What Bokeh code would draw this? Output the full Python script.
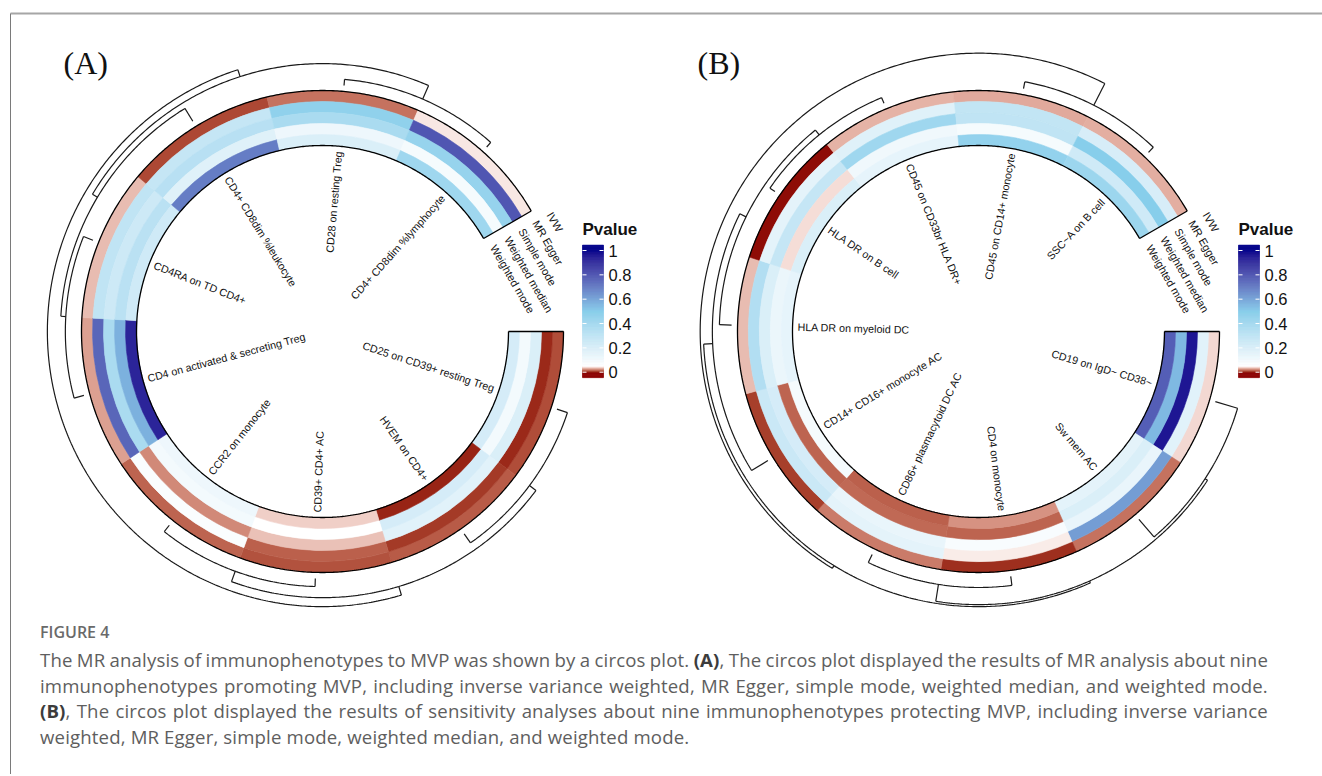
import math
from bokeh.plotting import figure
from bokeh.models import Range1d, Div
from bokeh.layouts import column
from bokeh.embed import file_html
from bokeh.resources import INLINE
from bokeh.core.properties import value

# ---------------- data ----------------
METHODS = ["IVW", "MR Egger", "Simple mode", "Weighted median", "Weighted mode"]

A_TRAITS = ["CD25 on CD39+ resting Treg", "HVEM on CD4+", "CD39+ CD4+ AC", "CCR2 on monocyte",
            "CD4 on activated & secreting Treg", "CD4RA on TD CD4+", "CD4+ CD8dim %leukocyte",
            "CD28 on resting Treg", "CD4+ CD8dim %lymphocyte"]
A_IVW    = [0.012, 0.015, 0.013, 0.017, 0.030, 0.036, 0.011, 0.020, 0.045]
A_EGGER  = [0.005, 0.008, 0.016, 0.070, 0.760, 0.300, 0.280, 0.470, 0.800]
A_SIMPLE = [0.200, 0.170, 0.037, 0.025, 0.380, 0.250, 0.330, 0.380, 0.450]
A_WMED   = [0.100, 0.220, 0.050, 0.100, 0.570, 0.320, 0.180, 0.120, 0.090]
A_WMODE  = [0.220, 0.004, 0.040, 0.120, 0.930, 0.240, 0.700, 0.200, 0.420]
A_MERGE  = [(-8, -9), (-5, -6), (-3, -4), (-1, -2), (2, -7), (5, 1), (4, 3), (7, 6)]
A_HEIGHT = [0.21, 0.35, 0.28, 0.38, 0.52, 0.72, 0.66, 0.97]

B_TRAITS = ["CD19 on IgD~ CD38~", "Sw mem AC", "CD4 on monocyte", "CD86+ plasmacytoid DC AC",
            "CD14+ CD16+ monocyte AC", "HLA DR on myeloid DC", "HLA DR on B cell",
            "CD45 on CD33br HLA DR+", "CD45 on CD14+ monocyte", "SSC~A on B cell"]
B_IVW    = [0.042, 0.020, 0.006, 0.022, 0.009, 0.036, 0.001, 0.034, 0.032, 0.033]
B_EGGER  = [0.170, 0.620, 0.046, 0.160, 0.260, 0.350, 0.160, 0.180, 0.290, 0.210]
B_SIMPLE = [0.960, 0.140, 0.080, 0.140, 0.220, 0.200, 0.280, 0.420, 0.300, 0.500]
B_WMED   = [0.550, 0.200, 0.017, 0.018, 0.017, 0.130, 0.043, 0.110, 0.090, 0.240]
B_WMODE  = [0.780, 0.160, 0.027, 0.016, 0.090, 0.150, 0.200, 0.150, 0.460, 0.430]
B_MERGE  = [(-9, -10), (-7, -8), (-6, 2), (-5, 3), (-3, -4), (-1, -2), (6, 5), (7, 4), (8, 1)]
B_HEIGHT = [0.24, 0.21, 0.42, 0.66, 0.31, 0.80, 0.90, 0.97, 1.08]

PANEL_TITLES = ["(A)", "(B)"]
LEGEND_TITLE = "Pvalue"
LEGEND_TICKS = [0, 0.2, 0.4, 0.6, 0.8, 1]
LEGEND_TICK_LABELS = ["0", "0.2", "0.4", "0.6", "0.8", "1"]
COLOR_STOPS = [0.0, 0.05, 0.5, 1.0]
COLOR_HEX = ["#8B0000", "#FFFFFF", "#87CEEB", "#00008B"]

CAPTION_TITLE = "FIGURE 4"
CAPTION_LINES = [
    "The MR analysis of immunophenotypes to MVP was shown by a circos plot. (A), The circos plot displayed the results of MR analysis about nine",
    "immunophenotypes promoting MVP, including inverse variance weighted, MR Egger, simple mode, weighted median, and weighted mode.",
    "(B), The circos plot displayed the results of sensitivity analyses about nine immunophenotypes protecting MVP, including inverse variance",
    "weighted, MR Egger, simple mode, weighted median, and weighted mode.",
]

# ---------------- colour scale (LAB interpolation) ----------------
def _hex_rgb(h):
    return [int(h[i:i + 2], 16) / 255 for i in (1, 3, 5)]

def _lin(c):
    return c / 12.92 if c <= 0.04045 else ((c + 0.055) / 1.055) ** 2.4

def _unlin(c):
    c = max(0.0, min(1.0, c))
    return 12.92 * c if c <= 0.0031308 else 1.055 * c ** (1 / 2.4) - 0.055

_WP = (0.95047, 1.0, 1.08883)

def _f(t):
    return t ** (1 / 3) if t > (6 / 29) ** 3 else t / (3 * (6 / 29) ** 2) + 4 / 29

def _finv(t):
    return t ** 3 if t > 6 / 29 else 3 * (6 / 29) ** 2 * (t - 4 / 29)

def hex_lab(h):
    r, g, b = [_lin(c) for c in _hex_rgb(h)]
    X = 0.4124564 * r + 0.3575761 * g + 0.1804375 * b
    Y = 0.2126729 * r + 0.7151522 * g + 0.0721750 * b
    Z = 0.0193339 * r + 0.1191920 * g + 0.9503041 * b
    fx, fy, fz = _f(X / _WP[0]), _f(Y / _WP[1]), _f(Z / _WP[2])
    return (116 * fy - 16, 500 * (fx - fy), 200 * (fy - fz))

def lab_hex(L, a, b):
    fy = (L + 16) / 116
    fx = fy + a / 500
    fz = fy - b / 200
    X, Y, Z = _WP[0] * _finv(fx), _WP[1] * _finv(fy), _WP[2] * _finv(fz)
    r = 3.2404542 * X - 1.5371385 * Y - 0.4985314 * Z
    g = -0.9692660 * X + 1.8760108 * Y + 0.0415560 * Z
    bb = 0.0556434 * X - 0.2040259 * Y + 1.0572252 * Z
    return "#%02x%02x%02x" % tuple(int(round(_unlin(c) * 255)) for c in (r, g, bb))

_LABS = [hex_lab(h) for h in COLOR_HEX]

def pcolor(v):
    v = max(COLOR_STOPS[0], min(COLOR_STOPS[-1], v))
    for i in range(len(COLOR_STOPS) - 1):
        s0, s1 = COLOR_STOPS[i], COLOR_STOPS[i + 1]
        if v <= s1:
            t = (v - s0) / (s1 - s0)
            l0, l1 = _LABS[i], _LABS[i + 1]
            return lab_hex(*[l0[k] + t * (l1[k] - l0[k]) for k in range(3)])
    return COLOR_HEX[-1]

# ---------------- geometry ----------------
W, H = 1322, 620
CAP_H = 156
CY = -331
CENTERS = [322, 978]
R_IN, R_OUT = 186, 241
GAP_END = 30.0          # degrees; heatmap runs clockwise from 0 deg to GAP_END
SPAN = 360.0 - GAP_END
R_BASE, R_TOP = 247, 276
R_LABEL = 181
TXT = value("Liberation Sans")

p = figure(width=W, height=H, x_range=Range1d(0, W), y_range=Range1d(-H, 0),
           output_backend="svg", toolbar_location=None, min_border=0,
           x_axis_location=None, y_axis_location=None)
p.grid.visible = False
p.outline_line_color = None
p.background_fill_color = "white"
p.border_fill_color = "white"

# frame of the figure page
p.segment(x0=[10], y0=[-13], x1=[W], y1=[-13], line_color="#a6a6a6", line_width=2)
p.segment(x0=[10], y0=[-13], x1=[10], y1=[-H], line_color="#7a7a7a", line_width=1)


def polar(cx, r, deg):
    t = math.radians(deg)
    return cx + r * math.cos(t), CY + r * math.sin(t)


def arc_pts(cx, r, d0, d1, n=None):
    if n is None:
        n = max(4, int(abs(d1 - d0) * 2))
    xs, ys = [], []
    for i in range(n + 1):
        x, y = polar(cx, r, d0 + (d1 - d0) * i / n)
        xs.append(x)
        ys.append(y)
    return xs, ys


def draw_panel(cx, traits, tracks, merge, heights, title, title_x):
    n = len(traits)
    w = SPAN / n
    tw = (R_OUT - R_IN) / len(tracks)
    # heatmap cells
    xs, ys, ir, orr, sa, ea, cols = [], [], [], [], [], [], []
    for j, vals in enumerate(tracks):
        r_o = R_OUT - j * tw
        for k, v in enumerate(vals):
            xs.append(cx); ys.append(CY)
            ir.append(r_o - tw); orr.append(r_o)
            sa.append(math.radians(-(k + 1) * w)); ea.append(math.radians(-k * w))
            cols.append(pcolor(v))
    p.annular_wedge(x=xs, y=ys, inner_radius=ir, outer_radius=orr, start_angle=sa, end_angle=ea,
                    fill_color=cols, line_color=cols, line_width=0.6)
    # borders
    bx, by = [], []
    for r in (R_IN, R_OUT):
        a, b = arc_pts(cx, r, 0, -SPAN)
        bx.append(a); by.append(b)
    for d in (0, -SPAN):
        x0, y0 = polar(cx, R_IN, d)
        x1, y1 = polar(cx, R_OUT, d)
        bx.append([x0, x1]); by.append([y0, y1])
    p.multi_line(xs=bx, ys=by, line_color="black", line_width=1.3)

    # row labels
    for side in ("left", "right"):
        lx, ly, lt, la = [], [], [], []
        for k, name in enumerate(traits):
            d = -(k + 0.5) * w
            right = math.cos(math.radians(d)) > 0
            if (side == "right") != right:
                continue
            x, y = polar(cx, R_LABEL, d)
            lx.append(x); ly.append(y); lt.append(name)
            la.append(math.radians(d if right else d + 180))
        p.text(x=lx, y=ly, text=lt, angle=la, text_align=side, text_baseline="middle",
               text_font=TXT, text_font_size="10.7px", text_color="#111111")

    # track labels at the end of the heatmap
    tx, ty, tt = [], [], []
    th = math.radians(GAP_END)
    for k, name in enumerate(METHODS):
        r = 256 - 16.3 * k
        tx.append(cx + r * math.cos(th) + 11 * math.sin(th))
        ty.append(CY + r * math.sin(th) - 11 * math.cos(th))
        tt.append(name)
    p.text(x=tx, y=ty, text=tt, angle=th - math.pi / 2, text_align="left", text_baseline="middle",
           text_font=TXT, text_font_size="11px", text_color="#111111")

    # dendrogram
    pos, hh = {}, {}
    def cpos(c):
        return (-c - 0.5) if c < 0 else pos[c]
    def chh(c):
        return 0.0 if c < 0 else hh[c]
    def rad(h):
        return R_BASE + h * (R_TOP - R_BASE)
    dx, dy = [], []
    for i, (c1, c2) in enumerate(merge, start=1):
        h = heights[i - 1]
        p1, p2 = cpos(c1), cpos(c2)
        pos[i] = (p1 + p2) / 2
        hh[i] = h
        a, b = arc_pts(cx, rad(h), -p1 * w, -p2 * w)
        dx.append(a); dy.append(b)
        for c, pc in ((c1, p1), (c2, p2)):
            x0, y0 = polar(cx, rad(chh(c)), -pc * w)
            x1, y1 = polar(cx, rad(h), -pc * w)
            dx.append([x0, x1]); dy.append([y0, y1])
    p.multi_line(xs=dx, ys=dy, line_color="#1a1a1a", line_width=1.2)

    # legend colour bar (value 0 at bottom, 1 at top)
    lx0, lx1 = cx + 260, cx + 281
    def y_of(v):
        return CY - 40.7 + v * 121.7
    steps = 220
    vmin, vmax = -0.045, 1.045
    tops, bots, qc = [], [], []
    for i in range(steps):
        v0 = vmin + (vmax - vmin) * i / steps
        v1 = vmin + (vmax - vmin) * (i + 1) / steps
        tops.append(y_of(v1))
        bots.append(y_of(v0))
        qc.append(pcolor((v0 + v1) / 2))
    p.quad(left=[lx0] * steps, right=[lx1] * steps, top=tops, bottom=bots,
           fill_color=qc, line_color=qc, line_width=0.5)
    sx0, sy0, sx1, sy1 = [], [], [], []
    for v in LEGEND_TICKS:
        yy = y_of(v)
        for a0, a1 in ((lx0, lx0 + 4), (lx1 - 4, lx1)):
            sx0.append(a0); sx1.append(a1); sy0.append(yy); sy1.append(yy)
    p.segment(x0=sx0, y0=sy0, x1=sx1, y1=sy1, line_color="white", line_width=1)
    p.text(x=[lx1 + 5] * len(LEGEND_TICKS), y=[y_of(v) for v in LEGEND_TICKS], text=LEGEND_TICK_LABELS,
           text_align="left", text_baseline="middle", text_font=TXT, text_font_size="16.5px",
           text_color="#111111")
    p.text(x=[lx0], y=[CY + 102], text=[LEGEND_TITLE], text_align="left", text_baseline="middle",
           text_font=TXT, text_font_size="17px", text_font_style="bold", text_color="#111111")

    # panel title
    p.text(x=[title_x], y=[-62], text=[title], text_align="left", text_baseline="middle",
           text_font=value("Liberation Serif"), text_font_size="32px", text_color="#111111")


draw_panel(CENTERS[0], A_TRAITS, [A_IVW, A_EGGER, A_SIMPLE, A_WMED, A_WMODE], A_MERGE, A_HEIGHT,
           PANEL_TITLES[0], 63)
draw_panel(CENTERS[1], B_TRAITS, [B_IVW, B_EGGER, B_SIMPLE, B_WMED, B_WMODE], B_MERGE, B_HEIGHT,
           PANEL_TITLES[1], 697)

# ---------------- caption ----------------
def fmt(word):
    for tag in ("(A)", "(B)"):
        word = word.replace(tag, "<b style='color:#3c3c3c'>%s</b>" % tag)
    return word

rows = []
for i, line in enumerate(CAPTION_LINES):
    if i == len(CAPTION_LINES) - 1:
        rows.append("<div style='white-space:nowrap;'>%s</div>" % fmt(line))
    else:
        spans = "".join("<span>%s</span>" % fmt(wd) for wd in line.split(" "))
        rows.append("<div style='display:flex;justify-content:space-between;white-space:nowrap;'>%s</div>"
                    % spans)

html = ("<div style=\"margin-left:10px;border-left:1px solid #7a7a7a;padding:2px 0 0 29px;width:1258px;"
        "height:%dpx;font-family:'Open Sans';color:#5e5e5e;\">"
        "<div style='font-size:16px;line-height:20px;font-weight:600;color:#6a6a6a;'>%s</div>"
        "<div style='margin-top:5px;font-size:18.6px;letter-spacing:0.15px;line-height:25.7px;'>%s</div></div>"
        % (CAP_H - 2, CAPTION_TITLE, "".join(rows)))

cap = Div(text=html, width=W, height=CAP_H, margin=(0, 0, 0, 0))
layout = column(p, cap, spacing=0)

open("out.html", "w").write(file_html(layout, INLINE))
